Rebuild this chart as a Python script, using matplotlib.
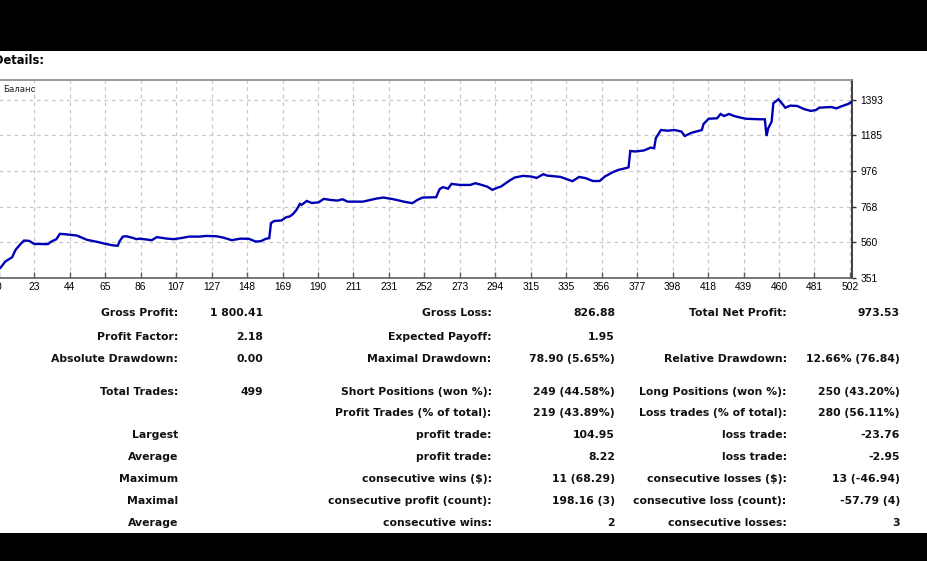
import matplotlib
matplotlib.use("Agg")
import matplotlib.pyplot as plt
import numpy as np
from matplotlib.patches import Rectangle
from matplotlib.lines import Line2D

# ---------------- data ----------------
trades = [0, 3, 6, 10, 12, 15, 17, 20, 23, 31, 33, 36, 38, 41, 48, 54, 60, 65, 69, 72,
          73, 75, 77, 81, 83, 85, 92, 95, 101, 105, 109, 114, 120, 124, 130, 134, 139, 144,
          149, 153, 156, 159, 161, 162, 164, 168, 171, 173, 175, 177, 179, 180, 183, 186,
          190, 193, 197, 201, 204, 207, 216, 224, 228, 234, 240, 245, 248, 251, 259, 261,
          263, 266, 268, 273, 279, 282, 285, 289, 292, 295, 297, 302, 305, 310, 315, 318,
          322, 324, 332, 336, 339, 343, 347, 351, 355, 358, 363, 366, 371, 372, 373, 376,
          381, 385, 387, 388, 391, 395, 399, 403, 405, 409, 415, 416, 419, 424, 426, 428,
          431, 434, 438, 441, 449, 452, 453, 454, 456, 457, 460, 462, 464, 467, 471, 475,
          479, 482, 484, 491, 494, 497, 501, 503]
balance = [410, 407, 446, 471, 514, 549, 569, 567, 549, 548, 563, 577, 608, 606, 598, 573,
           561, 549, 541, 538, 563, 592, 594, 584, 577, 580, 571, 589, 580, 577, 583, 592,
           592, 596, 594, 586, 571, 580, 579, 563, 565, 579, 583, 671, 684, 686, 706, 710,
           725, 749, 784, 778, 801, 789, 793, 813, 807, 803, 811, 797, 797, 815, 821, 811,
           797, 788, 807, 821, 823, 870, 882, 873, 901, 895, 895, 905, 897, 885, 866, 879,
           885, 920, 938, 948, 944, 936, 958, 950, 942, 928, 917, 942, 934, 918, 918, 944,
           971, 983, 995, 999, 1094, 1091, 1097, 1114, 1110, 1169, 1217, 1213, 1217, 1208,
           1182, 1201, 1217, 1252, 1283, 1286, 1311, 1299, 1311, 1299, 1289, 1283, 1280,
           1280, 1182, 1227, 1266, 1374, 1397, 1374, 1348, 1360, 1358, 1340, 1329, 1334,
           1348, 1352, 1344, 1356, 1370, 1383]

ytick_values = [351, 560, 768, 976, 1185, 1393]
xtick_labels = ["0", "23", "44", "65", "86", "107", "127", "148", "169", "190", "211", "231",
                "252", "273", "294", "315", "335", "356", "377", "398", "418", "439", "460",
                "481", "502"]

series_label = "Баланс"
title_text = "Details:"

col1_labels = ["Gross Profit:", "Profit Factor:", "Absolute Drawdown:", "Total Trades:", "",
               "Largest", "Average", "Maximum", "Maximal", "Average"]
col1_values = ["1 800.41", "2.18", "0.00", "499", "", "", "", "", "", ""]
col2_labels = ["Gross Loss:", "Expected Payoff:", "Maximal Drawdown:", "Short Positions (won %):",
               "Profit Trades (% of total):", "profit trade:", "profit trade:",
               "consecutive wins ($):", "consecutive profit (count):", "consecutive wins:"]
col2_values = ["826.88", "1.95", "78.90 (5.65%)", "249 (44.58%)", "219 (43.89%)", "104.95",
               "8.22", "11 (68.29)", "198.16 (3)", "2"]
col3_labels = ["Total Net Profit:", "", "Relative Drawdown:", "Long Positions (won %):",
               "Loss trades (% of total):", "loss trade:", "loss trade:",
               "consecutive losses ($):", "consecutive loss (count):", "consecutive losses:"]
col3_values = ["973.53", "", "12.66% (76.84)", "250 (43.20%)", "280 (56.11%)", "-23.76",
               "-2.95", "13 (-46.94)", "-57.79 (4)", "3"]

# ---------------- layout ----------------
W, H = 927, 561
fig = plt.figure(figsize=(W / 100, H / 100), dpi=100)
fig.patch.set_facecolor("white")

def fx(px):
    return px / W

def fy(py):
    return 1 - py / H

# black bands
fig.patches.append(Rectangle((0, fy(51)), 1, 51 / H, transform=fig.transFigure,
                             facecolor="black", edgecolor="none", zorder=0))
fig.patches.append(Rectangle((0, 0), 1, (H - 533) / H, transform=fig.transFigure,
                             facecolor="black", edgecolor="none", zorder=0))

ax_left, ax_right, ax_top, ax_bot = -4.9, 852, 80, 277.7
ax = fig.add_axes([fx(ax_left), fy(ax_bot), fx(ax_right - ax_left), (ax_bot - ax_top) / H])
ax.set_facecolor("white")

ax.plot(trades, balance, color="#0000b4", lw=1.7, solid_joinstyle="miter", zorder=3)

y_top = 351 + (ax_bot - ax_top) * (1393 - 351) / (ax_bot - 100)
ax.set_ylim(351, y_top)
ax.set_xlim(0, 503.2)

xt = np.linspace(2.2, 502, len(xtick_labels))
ax.set_xticks(xt)
ax.set_xticklabels(xtick_labels)
ax.set_yticks(ytick_values)
ax.yaxis.tick_right()
ax.set_yticklabels([str(v) for v in ytick_values])

for lab in ax.get_xticklabels() + ax.get_yticklabels():
    lab.set_fontfamily("Liberation Sans")
    lab.set_fontsize(7.4)
    lab.set_color("black")
ax.tick_params(axis="x", direction="in", length=4, pad=3, color="#606060", width=1)
ax.tick_params(axis="y", direction="out", length=3, pad=3, color="#303030", width=1)

ax.grid(True, color="#c8c8c8", linestyle=(0, (3, 3)), linewidth=0.9)
ax.set_axisbelow(True)

ax.spines["left"].set_visible(False)
ax.spines["top"].set_color("#8a8a8a")
ax.spines["top"].set_linewidth(1.2)
ax.spines["bottom"].set_color("#606060")
ax.spines["bottom"].set_linewidth(1.2)
ax.spines["right"].set_color("#202020")
ax.spines["right"].set_linewidth(1.2)

ax.text(fx(3) / 1, 0, "", transform=fig.transFigure)
fig.text(fx(3), fy(89.5), series_label, fontsize=6.2, family="DejaVu Sans",
         ha="left", va="center", color="#202020")

fig.text(fx(-6), fy(61), title_text, fontsize=8.3, family="DejaVu Sans", weight="bold",
         ha="left", va="center", color="black")

# ---------------- statistics table ----------------
row_y = [313.3, 336.7, 359.3, 391.7, 413.3, 435, 456.7, 479, 500.7, 522.7]
cols = [(178.3, col1_labels), (263.3, col1_values), (491.7, col2_labels),
        (615, col2_values), (786.7, col3_labels), (900, col3_values)]
for xr, texts in cols:
    for yy, t in zip(row_y, texts):
        if t:
            fig.text(fx(xr), fy(yy), t, fontsize=7.8, family="DejaVu Sans",
                     weight="bold", ha="right", va="center", color="#111111")

fig.savefig("out.png", dpi=100, facecolor="white")
